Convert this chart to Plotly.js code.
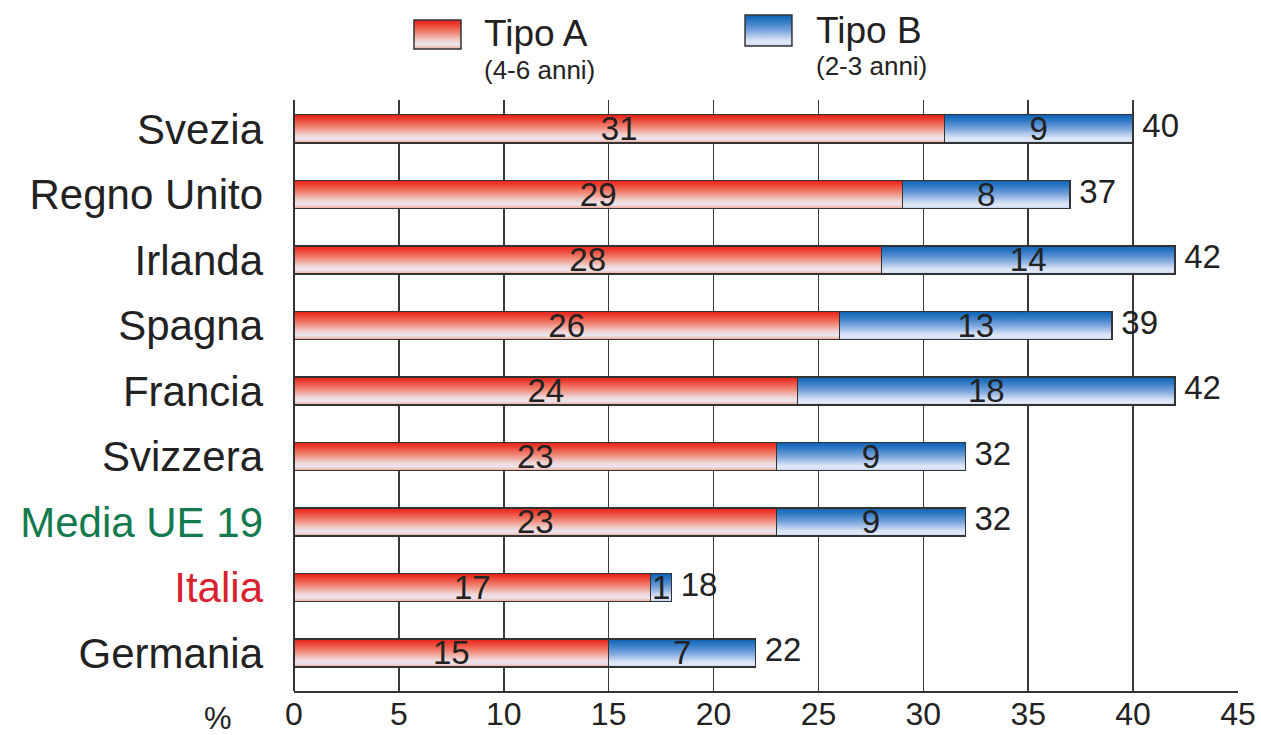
<!DOCTYPE html>
<html>
<head>
<meta charset="utf-8">
<script src="https://cdn.plot.ly/plotly-3.0.1.min.js"></script>
<style>
  html, body { margin: 0; padding: 0; background: #ffffff; }
  #chart { width: 1261px; height: 735px; }
</style>
</head>
<body>
<div id="chart"></div>
<script>
// Data (bottom to top)
var countries = ["Germania", "Italia", "Media UE 19", "Svizzera", "Francia", "Spagna", "Irlanda", "Regno Unito", "Svezia"];
var tickLabels = ["Germania",
  "<span style='color:#d9222f'>Italia</span>",
  "<span style='color:#137a4e'>Media UE 19</span>",
  "Svizzera", "Francia", "Spagna", "Irlanda", "Regno Unito", "Svezia"];
var tipoA = [15, 17, 23, 23, 24, 26, 28, 29, 31];
var tipoB = [7, 1, 9, 9, 18, 13, 14, 8, 9];
var totals = [22, 18, 32, 32, 42, 39, 42, 37, 40];
var xTicks = [0, 5, 10, 15, 20, 25, 30, 35, 40, 45];

var FONT = "Liberation Sans, Arial, Helvetica, sans-serif";
var TXT = "#222222";

var traceA = {
  type: "bar", orientation: "h", name: "Tipo A",
  y: countries, x: tipoA,
  text: tipoA.map(String), textposition: "inside", insidetextanchor: "middle",
  textangle: 0, constraintext: "none",
  textfont: {family: FONT, size: 33, color: TXT},
  marker: {color: "#ef7a68", line: {color: "#333333", width: 1.5}},
  showlegend: false, hoverinfo: "skip", cliponaxis: false
};
var traceB = {
  type: "bar", orientation: "h", name: "Tipo B",
  y: countries, x: tipoB,
  text: tipoB.map(String), textposition: "inside", insidetextanchor: "middle",
  textangle: 0, constraintext: "none",
  textfont: {family: FONT, size: 33, color: TXT},
  marker: {color: "#6f9fd8", line: {color: "#333333", width: 1.5}},
  showlegend: false, hoverinfo: "skip", cliponaxis: false
};
var traceT = {
  type: "scatter", mode: "text",
  y: countries, x: totals,
  text: totals.map(function (v) { return "\u00a0" + v; }),
  textposition: "middle right",
  textfont: {family: FONT, size: 33, color: TXT},
  showlegend: false, hoverinfo: "skip", cliponaxis: false
};

var layout = {
  width: 1261, height: 735,
  margin: {l: 294, r: 23, t: 100, b: 44, pad: 0},
  paper_bgcolor: "#ffffff", plot_bgcolor: "#ffffff",
  barmode: "stack", bargap: 0.57,
  font: {family: FONT, color: TXT},
  showlegend: false,
  xaxis: {
    range: [0, 45], tickvals: xTicks, ticktext: xTicks.map(String),
    showgrid: true, gridcolor: "#3a3a3a", gridwidth: 1.6,
    zeroline: true, zerolinecolor: "#333333", zerolinewidth: 2,
    showline: true, linecolor: "#333333", linewidth: 1.8,
    ticks: "", ticklabelstandoff: -6,
    tickfont: {family: FONT, size: 32, color: TXT},
    automargin: false, fixedrange: true
  },
  yaxis: {
    type: "category", categoryorder: "array", categoryarray: countries,
    tickvals: countries, ticktext: tickLabels,
    range: [-0.58, 8.44],
    showgrid: false, zeroline: false, showline: false,
    ticks: "", ticklabelstandoff: 30,
    tickfont: {family: FONT, size: 42, color: TXT},
    automargin: false, fixedrange: true
  },
  shapes: [
    {type: "rect", xref: "paper", yref: "paper", x0: 0.1271, x1: 0.1769, y0: 1.0863, y1: 1.1354,
     fillcolor: "#ef7a68", line: {color: "#333333", width: 1.5}},
    {type: "rect", xref: "paper", yref: "paper", x0: 0.4778, x1: 0.5275, y0: 1.0914, y1: 1.1438,
     fillcolor: "#6f9fd8", line: {color: "#333333", width: 1.5}}
  ],
  annotations: [
    {xref: "paper", yref: "paper", x: 0.1992, y: 1.1117, xanchor: "left", yanchor: "middle",
     text: "Tipo A", showarrow: false, font: {family: FONT, size: 37, color: TXT}},
    {xref: "paper", yref: "paper", x: 0.1992, y: 1.0508, xanchor: "left", yanchor: "middle",
     text: "(4-6 anni)", showarrow: false, font: {family: FONT, size: 26, color: TXT}},
    {xref: "paper", yref: "paper", x: 0.5508, y: 1.1168, xanchor: "left", yanchor: "middle",
     text: "Tipo B", showarrow: false, font: {family: FONT, size: 37, color: TXT}},
    {xref: "paper", yref: "paper", x: 0.5508, y: 1.0575, xanchor: "left", yanchor: "middle",
     text: "(2-3 anni)", showarrow: false, font: {family: FONT, size: 26, color: TXT}},
    {xref: "paper", yref: "paper", x: -0.0805, y: -0.0457, xanchor: "center", yanchor: "middle",
     text: "%", showarrow: false, font: {family: FONT, size: 31, color: TXT}}
  ]
};

function addGradients(gd) {
  var svg = gd.querySelector("svg.main-svg");
  var ns = "http://www.w3.org/2000/svg";
  var defs = svg.querySelector("defs");
  if (!defs) { defs = document.createElementNS(ns, "defs"); svg.insertBefore(defs, svg.firstChild); }
  function grad(id, stops) {
    var g = document.createElementNS(ns, "linearGradient");
    g.setAttribute("id", id);
    g.setAttribute("x1", "0"); g.setAttribute("y1", "0");
    g.setAttribute("x2", "0"); g.setAttribute("y2", "1");
    stops.forEach(function (s) {
      var st = document.createElementNS(ns, "stop");
      st.setAttribute("offset", s[0]);
      st.setAttribute("stop-color", s[1]);
      g.appendChild(st);
    });
    defs.appendChild(g);
  }
  grad("gradA", [["0", "#e81e1a"], ["0.15", "#ec3e30"], ["0.45", "#f08a78"], ["0.72", "#f0d4d4"], ["0.86", "#ebe6f0"], ["1", "#f2a890"]]);
  grad("gradB", [["0", "#0a62b2"], ["0.2", "#2e78c4"], ["0.5", "#7aa4dc"], ["0.8", "#d4e0f6"], ["0.9", "#e2eaf8"], ["1", "#bcd0f0"]]);
  var traces = gd.querySelectorAll(".barlayer .trace");
  traces.forEach(function (t, i) {
    var id = i === 0 ? "gradA" : "gradB";
    t.querySelectorAll(".point path").forEach(function (p) { p.style.fill = "url(#" + id + ")"; });
  });
  var shapes = gd.querySelectorAll(".shapelayer path");
  shapes.forEach(function (p, i) {
    p.style.fill = "url(#" + (i === 0 ? "gradA" : "gradB") + ")";
    p.style.fillOpacity = 1;
  });
}

Plotly.newPlot("chart", [traceA, traceB, traceT], layout, {displayModeBar: false, staticPlot: true})
  .then(addGradients);
</script>
</body>
</html>
